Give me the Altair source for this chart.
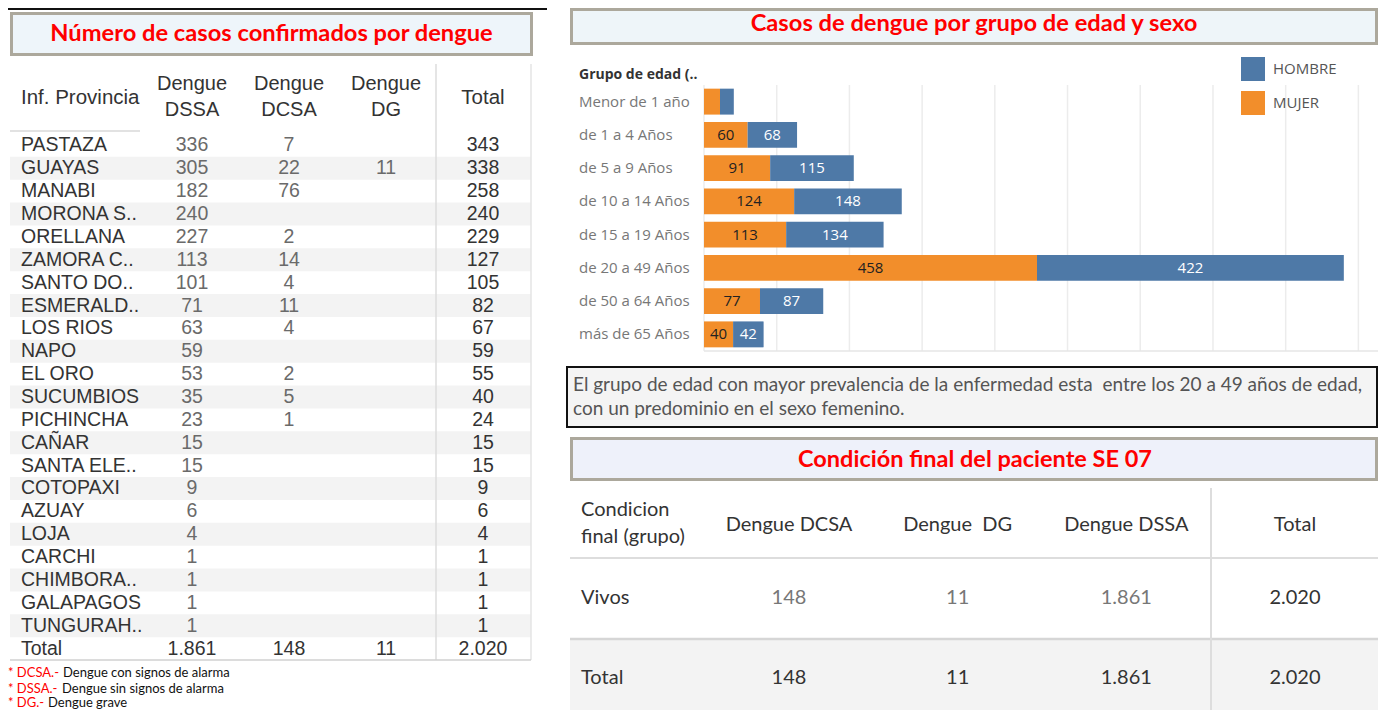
import altair as alt
import pandas as pd

# ---------------- data ----------------
provincias = ["PASTAZA", "GUAYAS", "MANABI", "MORONA S..", "ORELLANA", "ZAMORA C..",
              "SANTO DO..", "ESMERALD..", "LOS RIOS", "NAPO", "EL ORO", "SUCUMBIOS",
              "PICHINCHA", "CAÑAR", "SANTA ELE..", "COTOPAXI", "AZUAY", "LOJA",
              "CARCHI", "CHIMBORA..", "GALAPAGOS", "TUNGURAH.."]
dssa = [336, 305, 182, 240, 227, 113, 101, 71, 63, 59, 53, 35, 23, 15, 15, 9, 6, 4, 1, 1, 1, 1]
dcsa = [7, 22, 76, None, 2, 14, 4, 11, 4, None, 2, 5, 1,
        None, None, None, None, None, None, None, None, None]
dg = [None, 11, None, None, None, None, None, None, None, None, None, None, None,
      None, None, None, None, None, None, None, None, None]
totales = [343, 338, 258, 240, 229, 127, 105, 82, 67, 59, 55, 40, 24, 15, 15, 9, 6, 4, 1, 1, 1, 1]
t1_cols = ["DSSA", "DCSA", "DG", "Total"]
t1_head1 = ["Dengue", "Dengue", "Dengue", ""]
t1_head2 = ["DSSA", "DCSA", "DG", ""]

edades = ["Menor de 1 año", "de 1 a 4 Años", "de 5 a 9 Años", "de 10 a 14 Años",
          "de 15 a 19 Años", "de 20 a 49 Años", "de 50 a 64 Años", "más de 65 Años"]
mujer = [22, 60, 91, 124, 113, 458, 77, 40]
hombre = [19, 68, 115, 148, 134, 422, 87, 42]
sexos = ["HOMBRE", "MUJER"]
grid_vals = [0, 100, 200, 300, 400, 500, 600, 700, 800, 900]

t2_cols = ["Dengue DCSA", "Dengue  DG", "Dengue DSSA", "Total"]
t2_rows = ["Vivos", "Total"]
vivos = [148, 11, 1861, 2020]
t2_total = [148, 11, 1861, 2020]

# ---------------- helpers ----------------
OX, OY = 8, 8
def X(v): return v - OX
def Y(v): return v - OY
one = pd.DataFrame({"k": [0]})
def fmt(v): return f"{int(v):,}".replace(",", ".")
def keep_spaces(s): return s.replace("  ", " \u00a0")

TAB = "Open Sans"
T1F = "Liberation Sans"
CAL = "Lato"
RED = "#ff0000"
BOXB = "#aca89c"
TS = 19.5   # table 1 font size

def box(x0, y0, x1, y1, fill, stroke=None, sw=0):
    kw = dict(fill=fill)
    if stroke:
        kw.update(stroke=stroke, strokeWidth=sw)
    return alt.Chart(one).mark_rect(**kw).encode(
        x=alt.value(X(x0)), x2=alt.value(X(x1)), y=alt.value(Y(y0)), y2=alt.value(Y(y1)))

def label(txt, x, y, size, color, font, weight="normal", align="left"):
    return alt.Chart(one).mark_text(text=txt, fontSize=size, color=color, font=font,
                                    fontWeight=weight, align=align, baseline="middle").encode(
        x=alt.value(X(x)), y=alt.value(Y(y)))

def hline(x0, x1, y, color, w):
    return alt.Chart(one).mark_rule(color=color, strokeWidth=w).encode(
        x=alt.value(X(x0)), x2=alt.value(X(x1)), y=alt.value(Y(y)))

def vline(x, y0, y1, color, w):
    return alt.Chart(one).mark_rule(color=color, strokeWidth=w).encode(
        x=alt.value(X(x)), y=alt.value(Y(y0)), y2=alt.value(Y(y1)))

layers = []

# ---------------- left: table 1 ----------------
layers.append(hline(8, 547, 9, "#111", 2))
layers.append(box(11.5, 13.5, 531.5, 54.5, "#eef5fa", BOXB, 3))
layers.append(label("Número de casos confirmados por dengue", 271.5, 34, 23.7, RED, CAL, "bold", "center"))

nrow = len(provincias) + 1
ys1 = alt.Scale(domain=list(range(nrow)), range=[Y(134), Y(660)], paddingInner=0, paddingOuter=0)
xs1 = alt.Scale(type="point", domain=t1_cols, range=[X(192), X(483)], padding=0)

bg1 = pd.DataFrame({"ri": [i for i in range(nrow) if i % 2 == 1]})
layers.append(alt.Chart(bg1).mark_rect(fill="#f3f3f3").encode(
    y=alt.Y("ri:O", scale=ys1, axis=None), x=alt.value(X(10)), x2=alt.value(X(531))))

recs = []
for i in range(len(provincias)):
    for c, vals in zip(t1_cols, [dssa, dcsa, dg, totales]):
        v = vals[i]
        if v is not None:
            recs.append(dict(ri=i, col=c, lab=fmt(v), kind="tot" if c == "Total" else "num"))
tot_vals = [sum(dssa), sum(v for v in dcsa if v), sum(v for v in dg if v), sum(totales)]
for c, v in zip(t1_cols, tot_vals):
    recs.append(dict(ri=nrow - 1, col=c, lab=fmt(v), kind="tot"))
cells1 = pd.DataFrame(recs)

layers.append(alt.Chart(cells1).mark_text(fontSize=TS, font=T1F, baseline="middle").encode(
    x=alt.X("col:N", scale=xs1, axis=None),
    y=alt.Y("ri:O", scale=ys1, axis=None),
    text="lab:N",
    color=alt.Color("kind:N", scale=alt.Scale(domain=["num", "tot"], range=["#6a6a6a", "#333333"]), legend=None)))

names = pd.DataFrame({"ri": list(range(nrow)), "name": provincias + ["Total"]})
layers.append(alt.Chart(names).mark_text(fontSize=TS, font=T1F, align="left", baseline="middle",
                                         color="#333333").encode(
    x=alt.value(X(21)), y=alt.Y("ri:O", scale=ys1, axis=None), text="name:N"))

hdr1 = pd.DataFrame({"col": t1_cols, "h1": t1_head1, "h2": t1_head2})
hdr1_two = hdr1[hdr1["h1"] != ""]
layers.append(alt.Chart(hdr1_two).mark_text(fontSize=20, font=T1F, baseline="middle", color="#333").encode(
    x=alt.X("col:N", scale=xs1, axis=None), y=alt.value(Y(84)), text="h1:N"))
layers.append(alt.Chart(hdr1_two).mark_text(fontSize=20, font=T1F, baseline="middle", color="#333").encode(
    x=alt.X("col:N", scale=xs1, axis=None), y=alt.value(Y(110)), text="h2:N"))
layers.append(label("Inf. Provincia", 21, 98, 20.5, "#333", T1F))
layers.append(label("Total", 483, 98, 20.5, "#333", T1F, align="center"))
layers.append(hline(10, 140, 131, "#d8d8d8", 1.5))
layers.append(vline(436, 64, 660, "#dcdcdc", 1.5))
layers.append(vline(531, 64, 660, "#e4e4e4", 1.5))
layers.append(hline(10, 531, 660, "#d0d0d0", 1.5))

# footnotes
FN = 13
layers.append(label("* DCSA.-", 8, 673, FN, RED, CAL))
layers.append(label("Dengue con signos de alarma", 63, 673, FN, "#111", CAL))
layers.append(label("* DSSA.-", 8, 689, FN, RED, CAL))
layers.append(label("Dengue sin signos de alarma", 62, 689, FN, "#111", CAL))
layers.append(label("* DG.-", 8, 703, FN, RED, CAL))
layers.append(label("Dengue grave", 48, 703, FN, "#111", CAL))

# ---------------- right: bar chart ----------------
layers.append(box(571.5, 9.5, 1376.5, 43.5, "#eef5f9", BOXB, 3))
layers.append(label("Casos de dengue por grupo de edad y sexo", 974, 24, 23.7, RED, CAL, "bold", "center"))

bars = pd.DataFrame({
    "edad": edades * 2,
    "sexo": ["MUJER"] * len(edades) + ["HOMBRE"] * len(edades),
    "value": mujer + hombre,
    "ord": [0] * len(edades) + [1] * len(edades),
})
xs2 = alt.Scale(domain=[0, 927], range=[X(704), X(1378)], nice=False, zero=False)
ys2 = alt.Scale(domain=edades, range=[Y(85), Y(351)], paddingInner=0.22, paddingOuter=0.11)

grid = pd.DataFrame({"g": grid_vals})
layers.append(alt.Chart(grid).mark_rule(color="#ececec", strokeWidth=1.5).encode(
    x=alt.X("g:Q", scale=xs2, axis=None), y=alt.value(Y(85)), y2=alt.value(Y(351))))
layers.append(hline(704, 1378, 351, "#e6e6e6", 1.5))

stacked = alt.Chart(bars).transform_stack(
    stack="value", groupby=["edad"], as_=["v0", "v1"], sort=[alt.SortField("ord", order="ascending")]
).transform_calculate(mid="(datum.v0 + datum.v1) / 2")

layers.append(stacked.mark_bar().encode(
    x=alt.X("v0:Q", scale=xs2, axis=None), x2="v1:Q",
    y=alt.Y("edad:N", scale=ys2, axis=None),
    color=alt.Color("sexo:N", scale=alt.Scale(domain=sexos, range=["#4e79a7", "#f28e2b"]),
                    legend=alt.Legend(orient="none", legendX=X(1241), legendY=Y(57), title=None,
                                      symbolType="square", symbolSize=576, symbolStrokeWidth=0,
                                      symbolOpacity=1, labelFont=TAB, labelFontSize=15,
                                      labelColor="#555", labelOffset=8, rowPadding=10, padding=0))))
for sx, col in [("MUJER", "#222222"), ("HOMBRE", "#ffffff")]:
    layers.append(stacked.transform_filter(f"datum.sexo == '{sx}' && datum.value >= 30").mark_text(
        fontSize=15, font=TAB, color=col, baseline="middle").encode(
        x=alt.X("mid:Q", scale=xs2, axis=None),
        y=alt.Y("edad:N", scale=ys2, axis=None),
        text="value:Q"))

agedf = pd.DataFrame({"edad": edades})
layers.append(alt.Chart(agedf).mark_text(fontSize=15, font=TAB, color="#777", align="left", baseline="middle").encode(
    x=alt.value(X(579)), y=alt.Y("edad:N", scale=ys2, axis=None), text="edad:N"))
layers.append(label("Grupo de edad (..", 579, 75, 14, "#333", TAB, "bold"))

# ---------------- right: comment box ----------------
layers.append(box(567, 367, 1377, 427, "#f4f4f4", "#111", 2))
layers.append(label(keep_spaces("El grupo de edad con mayor prevalencia de la enfermedad esta  entre los 20 a 49 años de edad,"),
                    573, 385, 19, "#555", CAL))
layers.append(label("con un predominio en el sexo femenino.", 573, 409, 19, "#555", CAL))

# ---------------- right: table 2 ----------------
layers.append(box(571.5, 438.5, 1376.5, 479.5, "#eef1fa", BOXB, 3))
layers.append(label("Condición final del paciente SE 07", 975, 460, 23.5, RED, CAL, "bold", "center"))

xs3 = alt.Scale(type="point", domain=t2_cols, range=[X(789), X(1295)], padding=0)
ys3 = alt.Scale(domain=t2_rows, range=[Y(558), Y(718)], paddingInner=0, paddingOuter=0)

layers.append(box(570, 640, 1378, 718, "#f3f3f3"))
layers.append(hline(570, 1378, 558, "#dddddd", 2))
layers.append(hline(570, 1378, 639, "#d6d6d6", 2.5))
layers.append(vline(1211, 488, 718, "#dddddd", 2))

recs2 = []
for c, v in zip(t2_cols, vivos):
    recs2.append(dict(row="Vivos", col=c, lab=fmt(v), kind="tot" if c == "Total" else "num"))
for c, v in zip(t2_cols, t2_total):
    recs2.append(dict(row="Total", col=c, lab=fmt(v), kind="tot"))
cells2 = pd.DataFrame(recs2)
layers.append(alt.Chart(cells2).mark_text(fontSize=20, font=CAL, baseline="middle").encode(
    x=alt.X("col:N", scale=xs3, axis=None),
    y=alt.Y("row:N", scale=ys3, axis=None),
    text="lab:N",
    color=alt.Color("kind:N", scale=alt.Scale(domain=["num", "tot"], range=["#777777", "#333333"]), legend=None)))
rowlab = pd.DataFrame({"row": t2_rows})
layers.append(alt.Chart(rowlab).mark_text(fontSize=20, font=CAL, color="#333", align="left", baseline="middle").encode(
    x=alt.value(X(581)), y=alt.Y("row:N", scale=ys3, axis=None), text="row:N"))
hdr2 = pd.DataFrame({"col": t2_cols, "lab": [keep_spaces(c) for c in t2_cols]})
layers.append(alt.Chart(hdr2).mark_text(fontSize=20, font=CAL, color="#333", baseline="middle").encode(
    x=alt.X("col:N", scale=xs3, axis=None), y=alt.value(Y(525)), text="lab:N"))
layers.append(label("Condicion", 581, 510, 20, "#333", CAL))
layers.append(label("final (grupo)", 581, 537, 20, "#333", CAL))

chart = alt.layer(*layers).resolve_scale(
    x="independent", y="independent", color="independent"
).properties(
    width=1372, height=702, padding=0, autosize=alt.AutoSizeParams(type="none"), background="white"
).configure_view(stroke=None)

chart.save("out.html", embed_options={"renderer": "svg", "actions": False})
